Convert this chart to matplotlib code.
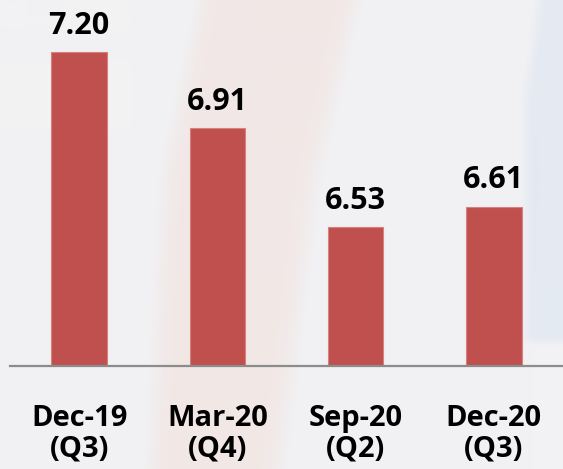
import numpy as np
import matplotlib
matplotlib.use("Agg")
import matplotlib.pyplot as plt

# quarter-end values
periods = ["Dec-19", "Mar-20", "Sep-20", "Dec-20"]
quarters = ["(Q3)", "(Q4)", "(Q2)", "(Q3)"]
values = [7.20, 6.91, 6.53, 6.61]

W, H = 563, 469
BAR = "#C0504D"
FONT = ["Open Sans", "DejaVu Sans"]


def box_blur(img, k):
    for axis in (0, 1):
        pad = [(k, k) if a == axis else (0, 0) for a in range(3)]
        c = np.cumsum(np.pad(img, pad, mode="edge"), axis=axis)
        c = np.concatenate([np.zeros_like(np.take(c, [0], axis=axis)), c], axis=axis)
        n = img.shape[axis]
        img = (np.take(c, range(2 * k, 2 * k + n), axis=axis)
               - np.take(c, range(0, n), axis=axis)) / (2 * k)
    return img


def backdrop(w, h):
    """Pale slide backdrop: grey base, a soft pink swoosh and a blue panel on the right."""
    yy, xx = np.mgrid[0:h, 0:w].astype(float)
    img = np.ones((h, w, 3)) * np.array([242, 242, 244]) / 255.0

    # pink swoosh drifting left towards the bottom
    left = np.interp(yy, [0, 180, h], [190, 153, 140])
    right = np.interp(yy, [0, 180, h], [367, 325, 290])
    inside = np.clip((xx - left) / 22.0, 0, 1) * np.clip((right - xx) / 25.0, 0, 1)
    pink = np.array([242, 232, 231]) / 255.0
    img = img * (1 - inside[..., None]) + pink * inside[..., None]

    # blue panel on the right, cut off above the baseline
    edge = np.interp(yy, [0, 100, h], [532, 518, 518])
    blue_mask = np.clip((xx - edge) / 12.0, 0, 1) * np.clip((343 - yy) / 4.0, 0, 1)
    blue = np.array([229, 234, 242]) / 255.0
    img = img * (1 - blue_mask[..., None]) + blue * blue_mask[..., None]

    return np.clip(box_blur(img, 4), 0, 1)


fig = plt.figure(figsize=(W / 100, H / 100), dpi=100)
bg = fig.add_axes([0, 0, 1, 1], zorder=0)
bg.imshow(backdrop(W, H), aspect="auto", extent=[0, 1, 0, 1], interpolation="bilinear")
bg.axis("off")

ax = fig.add_axes([10 / W, (H - 366) / H, (W - 10) / W, 366 / H], zorder=1)
ax.patch.set_alpha(0)

x = np.arange(len(values))
ax.bar(x, values, width=0.4, color=BAR, edgecolor="#D7817F", linewidth=0.8, zorder=2)

for xi, v in zip(x, values):
    ax.annotate(f"{v:.2f}", (xi, v), xytext=(0, 13), textcoords="offset points",
                ha="center", va="baseline", fontsize=22, fontweight="bold",
                family=FONT, color="black")

ax.set_xlim(-0.5, len(values) - 0.5)
ax.set_ylim(6.0, 7.4)
ax.set_xticks(x)
ax.set_xticklabels([f"{p}\n{q}" for p, q in zip(periods, quarters)],
                   fontsize=21, fontweight="bold", family=FONT, linespacing=1.1)
ax.tick_params(axis="x", length=0, pad=27)
ax.set_yticks([])
for side in ("top", "left", "right"):
    ax.spines[side].set_visible(False)
ax.spines["bottom"].set_color("#8C8C8C")
ax.spines["bottom"].set_linewidth(1.6)

fig.savefig("out.png", dpi=100)
